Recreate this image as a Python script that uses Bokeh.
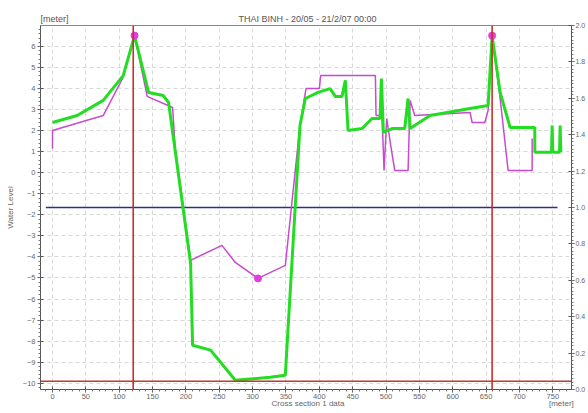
from bokeh.plotting import figure
from bokeh.models import Range1d, LinearAxis, Span, FixedTicker, PrintfTickFormatter
from bokeh.embed import file_html
from bokeh.resources import INLINE

# ---------------- data ----------------
title_text = "THAI BINH - 20/05 - 21/2/07 00:00"
unit_text = "[meter]"
x_label_text = "Cross section 1 data"
y_label_text = "Water Level"

green_x = [0, 37, 76, 106, 123, 144, 166, 174, 207, 210, 237, 274, 326, 349,
           371, 379, 398, 416, 424, 434, 439, 443, 464, 479, 491, 493, 496,
           509, 528, 533, 536, 566, 626, 653, 659, 671, 686, 723, 723, 748,
           749, 750, 760, 761, 762]
green_y = [2.39, 2.72, 3.44, 4.62, 6.52, 3.82, 3.67, 3.34, -4.30, -8.20, -8.43,
           -9.86, -9.72, -9.62, 2.25, 3.53, 3.82, 4.00, 3.63, 3.63, 4.39, 2.01,
           2.10, 2.58, 2.58, 4.48, 1.92, 2.10, 2.10, 3.53, 2.10, 2.72, 3.06,
           3.20, 6.52, 3.82, 2.15, 2.15, 0.97, 0.97, 2.25, 0.97, 0.97, 2.25, 0.97]

magenta_x = [0, 0, 76, 105, 123, 142, 180, 184, 207, 254, 274, 308, 349, 371,
             380, 400, 402, 484, 485, 494, 497, 501, 507, 513, 533, 536, 543,
             626, 629, 648, 653, 659, 671, 683, 719, 719]
magenta_y = [1.16, 2.01, 2.72, 4.48, 6.52, 3.63, 3.10, 1.16, -4.16, -3.45,
             -4.26, -5.02, -4.40, 2.25, 4.00, 4.00, 4.62, 4.62, 2.72, 2.72,
             0.11, 2.58, 1.30, 0.11, 0.11, 3.44, 2.72, 2.87, 2.39, 2.39, 2.96,
             6.52, 3.53, 0.11, 0.11, 1.63]

marker_x = [123, 659, 308]
marker_y = [6.52, 6.52, -5.02]

red_section_x = [121, 659]
red_bottom_level = -9.91

blue_x = [-10, 757]
blue_level = [1.0, 1.0]

x_ticks = list(range(0, 751, 50))
left_ticks = list(range(-10, 7))
right_ticks = [0.0, 0.2, 0.4, 0.6, 0.8, 1.0, 1.2, 1.4, 1.6, 1.8, 2.0]

# ---------------- figure ----------------
FONT = "Liberation Sans"
TXT = "#666666"
NB = "\u00a0"

X0, X1 = -18, 778
Y0, Y1 = -10.3, 7.0

p = figure(width=588, height=413, x_range=Range1d(X0, X1), y_range=Range1d(Y0, Y1),
           output_backend="svg", toolbar_location=None,
           min_border_left=40, min_border_right=16, min_border_top=25,
           min_border_bottom=24)
p.extra_y_ranges = {"right": Range1d(0, 2.0)}
p.background_fill_color = "white"
p.outline_line_color = "#888888"

# title line: unit at left, title centred over the frame
p.title.text = unit_text + NB * 68 + title_text
p.title.align = "left"
p.title.offset = 0
p.title.standoff = 4
p.title.text_font = FONT
p.title.text_font_size = "9px"
p.title.text_font_style = "normal"
p.title.text_color = "#555555"


def style_axis(ax, size):
    ax.major_label_text_font = FONT
    ax.major_label_text_font_size = size
    ax.major_label_text_color = TXT
    ax.axis_line_color = "#555555"
    ax.major_tick_line_color = "#555555"
    ax.minor_tick_line_color = "#777777"
    ax.major_tick_in = 3
    ax.major_tick_out = 3
    ax.minor_tick_in = 0
    ax.minor_tick_out = 2


xa = p.xaxis[0]
style_axis(xa, "7.5px")
xa.major_label_standoff = 1
xa.ticker = FixedTicker(ticks=x_ticks, minor_ticks=list(range(-10, 780, 10)))
xa.axis_label = NB * 105 + x_label_text + NB * 92 + unit_text
xa.axis_label_text_font = FONT
xa.axis_label_text_font_size = "8px"
xa.axis_label_text_font_style = "normal"
xa.axis_label_text_color = TXT
xa.axis_label_standoff = -3

ya = p.yaxis[0]
style_axis(ya, "7.5px")
ya.major_label_standoff = 2
ya.ticker = FixedTicker(ticks=left_ticks, minor_ticks=[v / 5 for v in range(-51, 35)])
ya.axis_label = y_label_text
ya.axis_label_text_font = FONT
ya.axis_label_text_font_size = "8px"
ya.axis_label_text_font_style = "normal"
ya.axis_label_text_color = TXT
ya.axis_label_standoff = 5

raxis = LinearAxis(y_range_name="right")
style_axis(raxis, "7px")
raxis.major_label_standoff = 1
raxis.axis_label_standoff = 0
raxis.formatter = PrintfTickFormatter(format="%.1f")
raxis.ticker = FixedTicker(ticks=right_ticks, minor_ticks=[v / 50 for v in range(0, 101)])
p.add_layout(raxis, "right")

# grids
p.xgrid.ticker = FixedTicker(ticks=x_ticks)
p.ygrid.ticker = FixedTicker(ticks=left_ticks)
for g in (p.xgrid[0], p.ygrid[0]):
    g.grid_line_color = "#d8d8d8"
    g.grid_line_dash = "4 3"
    g.grid_line_width = 1

# reference lines
p.line(blue_x, blue_level, y_range_name="right", color="#2b2f8f", line_width=1.5)
p.add_layout(Span(location=red_bottom_level, dimension="width",
                  line_color="#c0392b", line_width=1.5))
for xv in red_section_x:
    p.add_layout(Span(location=xv, dimension="height",
                      line_color="#c9302c", line_width=1.6))

# series
p.line(magenta_x, magenta_y, color="#c84ad0", line_width=1.5)
p.line(green_x, green_y, color="#22dd22", line_width=3)
p.scatter(marker_x, marker_y, size=7, color="#e040d8", line_color="#e040d8")

open("out.html", "w").write(file_html(p, INLINE))
